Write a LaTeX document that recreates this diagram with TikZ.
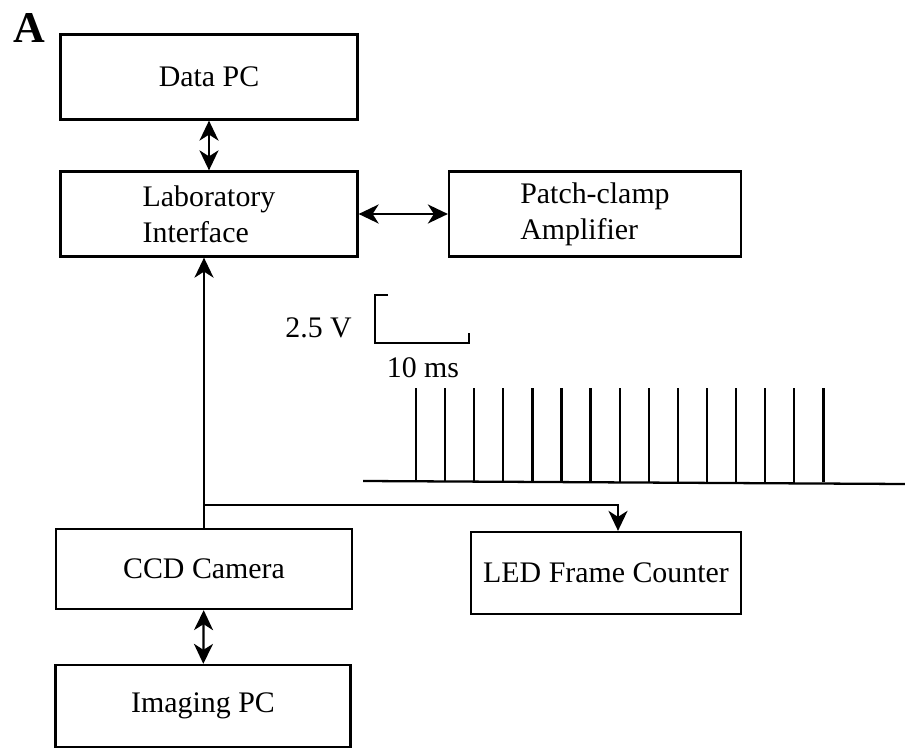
\documentclass[tikz,border=0pt]{standalone}
\usepackage{fontspec}
\setmainfont{Liberation Serif}
\usetikzlibrary{arrows.meta,positioning}

\begin{document}
\begin{tikzpicture}[
    x=0.02cm, y=-0.02cm,
    block/.style={rectangle, draw, line width=1.3pt, minimum height=1.7cm, align=left, font=\fontsize{17}{20.5}\selectfont},
    arrow/.style={-{Stealth[length=4mm, width=3.8mm, inset=1.2mm]}, line width=1.3pt},
    twoway/.style={{Stealth[length=4mm, width=3.8mm, inset=1.2mm]}-{Stealth[length=4mm, width=3.8mm, inset=1.2mm]}, line width=1.3pt},
    lbl/.style={font=\fontsize{17}{20}\selectfont}
]
    \useasboundingbox (0,0) rectangle (905,749);

    % Panel letter
    \node[font=\fontsize{25}{30}\selectfont\bfseries] (panel) at (29,28) {A};

    % Blocks
    \node[block, minimum width=5.94cm] (datapc) at (209,77) {Data PC};
    \node[block, minimum width=5.94cm] (labif) at (209,214) {Laboratory\\Interface};
    \node[block, minimum width=5.84cm] (patch) at (595,214) {Patch-clamp\\Amplifier};
    \node[block, minimum width=5.92cm, minimum height=1.6cm] (camera) at (204,569) {CCD Camera};
    \node[block, minimum width=5.4cm, minimum height=1.64cm] (led) at (606,573) {LED Frame Counter};
    \node[block, minimum width=5.9cm, minimum height=1.64cm] (imaging) at (203,706) {Imaging PC};

    % Arrows
    \draw[twoway] (datapc) -- (labif);
    \draw[twoway] (labif.east) -- (patch.west);
    \draw[arrow] (camera.north) -- (camera.north |- labif.south);
    \draw[twoway] (camera) -- (imaging);
    \coordinate (tap) at (204,505);
    \draw[arrow] (tap) -| ([xshift=0.24cm]led.north);

    % Scale bar
    \draw[line width=1.3pt] (388,295) -- (375,295) -- (375,343) -- (469,343) -- (469,333);
    \node[lbl, anchor=east] (volt) at (358,328) {2.5 V};
    \node[lbl] (time) at (423,368) {10 ms};

    % Frame pulses
    \draw[line width=1.3pt] (363,481) -- (905,484);
    \foreach \i in {0,...,14}
        \draw[line width=1.3pt] (416+29.1*\i,482) -- (416+29.1*\i,388);
\end{tikzpicture}
\end{document}
